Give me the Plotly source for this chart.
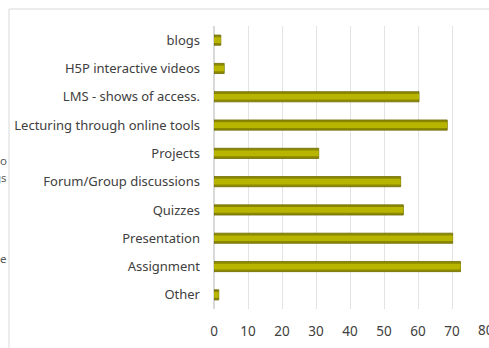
import plotly.graph_objects as go

categories = ["blogs", "H5P interactive videos", "LMS - shows of access.",
              "Lecturing through online tools", "Projects", "Forum/Group discussions",
              "Quizzes", "Presentation", "Assignment", "Other"]
values = [2, 3, 60.3, 68.6, 30.8, 54.9, 55.7, 70.2, 72.5, 1.4]
x_ticks = [0, 10, 20, 30, 40, 50, 60, 70, 80]

W, H = 489, 348
L, R, T, B = 214, 486, 26, 309

fig = go.Figure()
fig.add_trace(go.Bar(y=categories, x=values, orientation="h", width=0.36,
                     marker=dict(color="#8c8800", line=dict(color="#6e6c00", width=0.8)),
                     hoverinfo="skip"))
fig.add_trace(go.Bar(y=categories, x=values, orientation="h", width=0.2,
                     marker=dict(color="#b8b500", line=dict(width=0)),
                     hoverinfo="skip"))

def px(p):
    return (p - L) / (R - L)

def py(p):
    return (B - p) / (B - T)

shapes = [
    dict(type="line", xref="paper", yref="paper", x0=px(9), x1=px(489), y0=py(9), y1=py(9),
         line=dict(color="#d9d9d9", width=1)),
    dict(type="line", xref="paper", yref="paper", x0=px(9), x1=px(9), y0=py(9), y1=py(348),
         line=dict(color="#d9d9d9", width=1)),
]
annotations = []
for txt, yy in [("o", 161), ("gs", 177), ("e", 258)]:
    annotations.append(dict(text=txt, xref="paper", yref="paper", x=px(9), y=py(yy),
                            xanchor="right", yanchor="middle", showarrow=False,
                            font=dict(family="Noto Sans", size=11.5, color="#595959")))
# last tick label, partly outside the page as in the reference
annotations.append(dict(text=str(x_ticks[-1]), xref="x", yref="paper", x=x_ticks[-1], y=py(330),
                        xanchor="center", yanchor="middle", showarrow=False,
                        font=dict(family="Noto Sans", size=13.5, color="#404040")))

fig.update_layout(
    width=W, height=H, margin=dict(l=L, r=W - R, t=T, b=H - B),
    paper_bgcolor="white", plot_bgcolor="white",
    barmode="overlay", showlegend=False, bargap=0.6,
    font=dict(family="Noto Sans", size=13, color="#404040"),
    shapes=shapes, annotations=annotations,
    xaxis=dict(range=[0, 80], tickvals=x_ticks[:-1], showgrid=True, gridcolor="#e3e3e3",
               gridwidth=1, zeroline=True, zerolinecolor="#d9d9d9", showline=False,
               ticks="", ticklabelstandoff=12, tickfont=dict(size=13.5)),
    yaxis=dict(categoryorder="array", categoryarray=categories[::-1], autorange=True,
               showgrid=False, ticks="", ticklabelstandoff=13, tickfont=dict(size=13)),
)
fig.write_html("out.html")
